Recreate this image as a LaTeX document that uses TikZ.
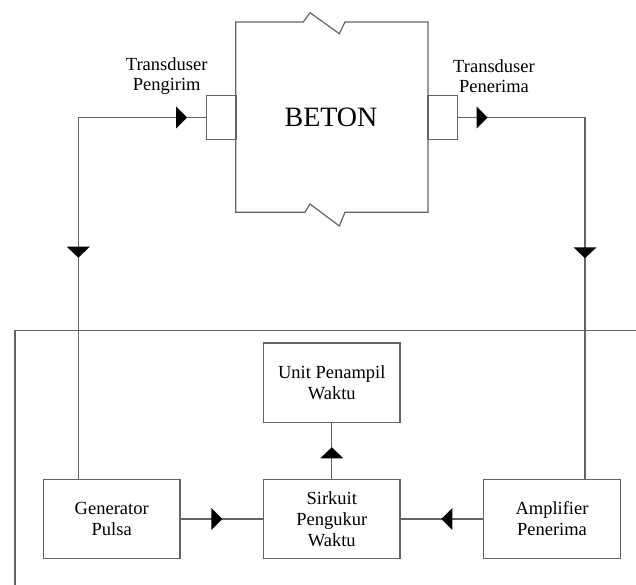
\documentclass[tikz,border=0pt]{standalone}
\usepackage{fontspec}
\setmainfont{Liberation Serif}
\definecolor{linegray}{RGB}{100,100,100}
\begin{document}
\begin{tikzpicture}[x=1pt,y=-1pt,
  wire/.style={draw=linegray,line width=1.2pt},
  blockbox/.style={draw=linegray,line width=1.2pt,rectangle,minimum width=136.5pt,minimum height=79.4pt,inner sep=0pt,align=center,font=\fontsize{18.5}{21}\selectfont},
  tbox/.style={draw=linegray,line width=1.2pt,rectangle,minimum width=29.5pt,minimum height=43.6pt,inner sep=0pt},
  lbl/.style={align=center,inner sep=0pt,font=\fontsize{18.5}{20}\selectfont},
  tipfill/.style={fill=black}
]
\path[use as bounding box] (0,0) rectangle (636,585);

% concrete block
\draw[wire] (235.7,22) -- (303.3,22) -- (310,12.7) -- (339.3,33.7) -- (345,22) -- (428,22)
  -- (428,212.3) -- (345,212.3) -- (339.3,226) -- (310,204) -- (305,212.3) -- (235.7,212.3) -- cycle;
\node[font=\fontsize{28}{30}\selectfont,inner sep=0pt] (beton) at (331,117.5) {BETON};

% transducers
\node[tbox] (tx1) at (221.2,117.5) {};
\node[tbox] (tx2) at (442.8,117.5) {};
\node[lbl] (ltx1) at (166.7,76) {Transduser\\Pengirim};
\node[lbl] (ltx2) at (494,76) {Transduser\\Penerima};

% blocks
\node[blockbox] (unit) at (331.8,382.7) {Unit Penampil\\Waktu};
\node[blockbox] (sirk) at (331.8,519) {Sirkuit\\Pengukur\\Waktu};
\node[blockbox] (gen) at (111.7,519) {Generator\\Pulsa};
\node[blockbox] (amp) at (552,519) {Amplifier\\Penerima};

% frame
\coordinate (fa) at (636,330.7);
\coordinate (fb) at (15,330.7);
\coordinate (fc) at (15,585);
\draw[wire] (fa) -- (fb) -- (fc);

% signal paths
\coordinate (c1) at (78.3,117.5);
\coordinate (c2) at (585,117.5);
\draw[wire] (c1 |- gen.north) -- (c1) -- (tx1.west);
\draw[wire] (tx2.east) -- (c2) -- (c2 |- amp.north);
\draw[wire] (sirk.north) -- (unit.south);
\draw[wire] (gen.east) -- (sirk.west);
\draw[wire] (amp.west) -- (sirk.east);

% arrow tips
\fill[tipfill] (187,117.5) -- ++(-11,-11) -- ++(0,22) -- cycle;
\fill[tipfill] (78.3,257.7) -- ++(-11.5,-11) -- ++(23,0) -- cycle;
\fill[tipfill] (487.7,117.5) -- ++(-11,-11) -- ++(0,22) -- cycle;
\fill[tipfill] (585,258.3) -- ++(-11.5,-11) -- ++(23,0) -- cycle;
\fill[tipfill] (331.8,447.3) -- ++(-11.5,11) -- ++(23,0) -- cycle;
\fill[tipfill] (222.3,519) -- ++(-11,-11) -- ++(0,22) -- cycle;
\fill[tipfill] (441.4,519) -- ++(11,-11) -- ++(0,22) -- cycle;
\end{tikzpicture}
\end{document}
